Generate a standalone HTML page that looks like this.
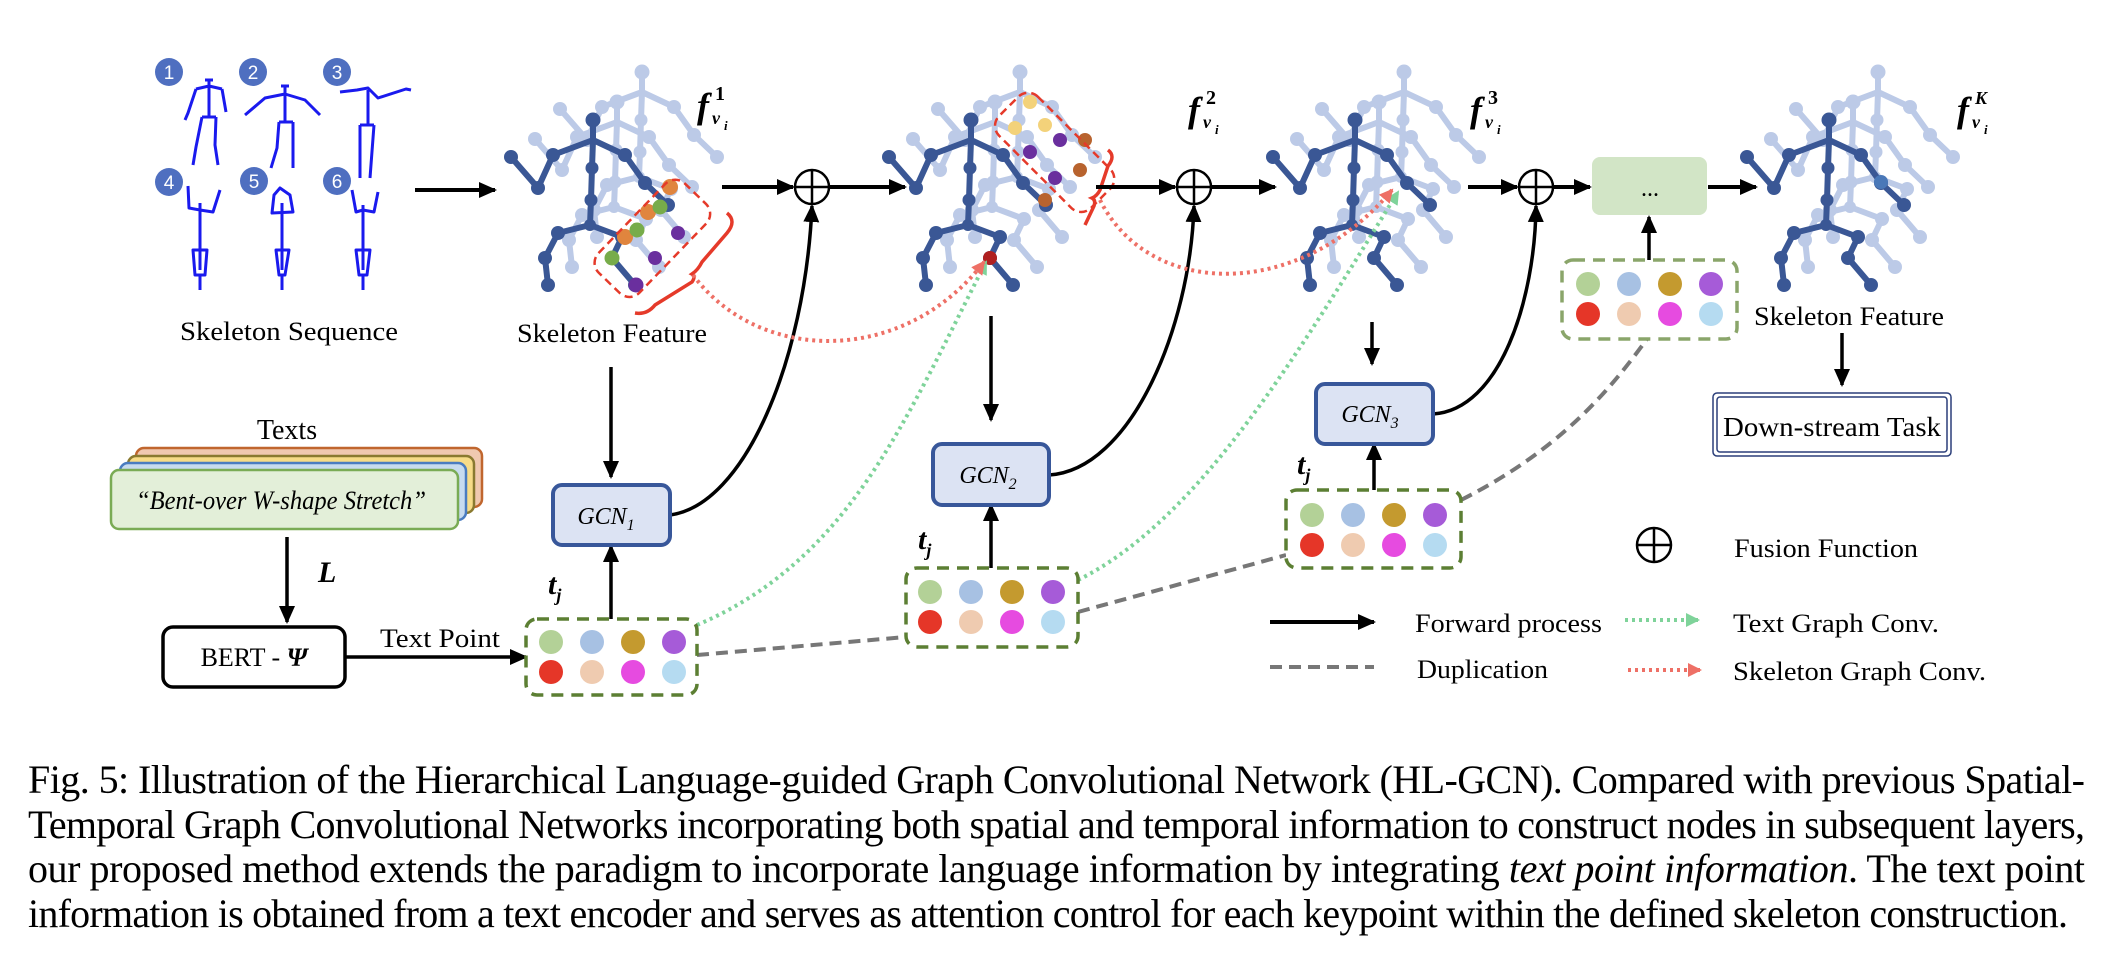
<!DOCTYPE html>
<html><head><meta charset="utf-8"><style>
html,body{margin:0;padding:0;background:#fff;}
svg{display:block;font-family:"Liberation Serif",serif;}
</style></head><body>
<svg width="2106" height="966" viewBox="0 0 2106 966" xmlns="http://www.w3.org/2000/svg">
<defs>
<marker id="ahb" markerWidth="18" markerHeight="18" refX="16" refY="9" orient="auto" markerUnits="userSpaceOnUse" viewBox="0 0 18 18"><path d="M0,1 L18,9 L0,17 z" fill="#000"/></marker>
<marker id="ahg" markerWidth="14" markerHeight="14" refX="12" refY="7" orient="auto" markerUnits="userSpaceOnUse" viewBox="0 0 14 14"><path d="M0,0 L14,7 L0,14 z" fill="#7fd39a"/></marker>
<marker id="ahr" markerWidth="14" markerHeight="14" refX="12" refY="7" orient="auto" markerUnits="userSpaceOnUse" viewBox="0 0 14 14"><path d="M0,0 L14,7 L0,14 z" fill="#ee7066"/></marker>
<g id="geo">
<path d="M593,120 L593,140 M511,157 L538,188 L553,155 L593,140 L625,155 L645,183 L668,205 M593,140 L592,168 L591,200 L590,225 M548,285 L545,258 L558,233 L590,225 L622,237 L612,258 L635,285" fill="none" stroke-width="6" stroke-linecap="round" stroke-linejoin="round"/>
<g stroke="none">
<circle cx="593" cy="120" r="7.5"/><circle cx="553" cy="155" r="7"/><circle cx="538" cy="188" r="7"/><circle cx="511" cy="157" r="7"/>
<circle cx="625" cy="155" r="7"/><circle cx="645" cy="183" r="7"/><circle cx="668" cy="205" r="7"/>
<circle cx="592" cy="168" r="6.5"/><circle cx="591" cy="200" r="6.5"/><circle cx="590" cy="225" r="6"/>
<circle cx="558" cy="233" r="7"/><circle cx="545" cy="258" r="7"/><circle cx="548" cy="285" r="7"/>
<circle cx="622" cy="237" r="7"/><circle cx="612" cy="258" r="7"/><circle cx="635" cy="285" r="7"/>
</g></g>
<g id="light">
<use href="#geo" transform="translate(49,-48)" stroke="#bccae7" fill="#bccae7"/>
<use href="#geo" transform="translate(24,-18)" stroke="#bccae7" fill="#bccae7"/>
</g>
<g id="skel">
<use href="#light"/>
<use href="#geo" stroke="#3a5795" fill="#3a5795"/>
</g>
<g id="dots">
<circle cx="0" cy="0" r="12" fill="#b3d197"/><circle cx="41" cy="0" r="12" fill="#a7c1e3"/><circle cx="82" cy="0" r="12" fill="#c49a2f"/><circle cx="123" cy="0" r="12" fill="#a65bd8"/>
<circle cx="0" cy="30" r="12" fill="#e53628"/><circle cx="41" cy="30" r="12" fill="#efcbb0"/><circle cx="82" cy="30" r="12" fill="#e64be0"/><circle cx="123" cy="30" r="12" fill="#b5dbf1"/>
</g>
</defs>

<g fill="#4f6fc0">
<circle cx="169" cy="72" r="14"/><circle cx="253" cy="72" r="14"/><circle cx="337" cy="72" r="14"/>
<circle cx="169" cy="182" r="14"/><circle cx="254" cy="181" r="14"/><circle cx="337" cy="181" r="14"/>
</g>
<g fill="#fff" font-family="Liberation Sans,sans-serif" font-size="19" text-anchor="middle">
<text x="169" y="79">1</text><text x="253" y="79">2</text><text x="337" y="79">3</text>
<text x="169" y="189">4</text><text x="254" y="188">5</text><text x="337" y="188">6</text>
</g>
<g stroke="#1a1aee" stroke-width="3" fill="none" stroke-linejoin="round">
<path d="M209,80 L209,117 M196,89 L209,86 L222,89 M196,89 L188,113 L185,120 M222,89 L226,112 M202,117 L216,117 M202,117 L196,147 L193,165 M216,117 L215,145 L218,165 M205,80 L213,80"/>
<path d="M285,86 L285,122 M245,115 L265,98 L285,94 L305,100 L320,115 M279,122 L293,122 M279,122 L277,148 L271,168 M293,122 L293,168 M281,86 L289,86"/>
<path d="M368,90 L368,125 M340,92 L357,90 L368,88 L378,98 L406,89 L411,90 M360,125 L374,125 M360,125 L360,178 M374,125 L370,178"/>
<path d="M200,203 L200,270 M188,186 L189,208 L200,210 L213,212 L220,190 M193,250 L207,250 L205,275 L195,275 z M200,275 L200,290"/>
<path d="M282,203 L282,270 M274,195 L280,188 L290,195 L293,212 L272,213 z M276,250 L289,250 L285,275 L279,275 z M282,275 L282,290"/>
<path d="M363,205 L363,270 M352,190 L356,212 L363,210 L374,212 L378,192 M356,250 L370,250 L367,275 L359,275 z M363,275 L363,290"/>
</g>
<text x="289" y="340" font-size="26" text-anchor="middle" textLength="218" lengthAdjust="spacingAndGlyphs">Skeleton Sequence</text>
<line x1="415" y1="190" x2="495" y2="190" stroke="#000" stroke-width="4" marker-end="url(#ahb)"/>

<use href="#skel"/>
<use href="#skel" transform="translate(378,0)"/>
<use href="#skel" transform="translate(762,0)"/>
<use href="#skel" transform="translate(1236,0)"/>
<circle cx="1881" cy="182" r="7" fill="#4a78b8"/>

<g>
<circle cx="670" cy="187" r="8" fill="#e0853e"/><circle cx="648" cy="212" r="8" fill="#e0853e"/><circle cx="625" cy="237" r="8" fill="#e0853e"/>
<circle cx="660" cy="207" r="7.5" fill="#77ac4a"/><circle cx="637" cy="230" r="7.5" fill="#77ac4a"/><circle cx="612" cy="258" r="7.5" fill="#77ac4a"/>
<circle cx="678" cy="233" r="7" fill="#6a2f9e"/><circle cx="655" cy="258" r="7" fill="#6a2f9e"/><circle cx="636" cy="285" r="7.5" fill="#6a2f9e"/>
</g>
<rect x="590" y="210" width="124" height="57" rx="14" transform="rotate(-46 652 238)" fill="none" stroke="#e53a2a" stroke-width="2.5" stroke-dasharray="8,5"/>
<path d="M727,213 q10,8 0,20 L702,262 q-4,8 -10,12 q4,2 0,8 L655,305 q-8,10 -20,8" fill="none" stroke="#e53a2a" stroke-width="3.5"/>
<g>
<circle cx="1030" cy="102" r="7" fill="#f3d27a"/><circle cx="1045" cy="125" r="7" fill="#f3d27a"/><circle cx="1015" cy="128" r="7" fill="#f3d27a"/>
<circle cx="1060" cy="140" r="7" fill="#6a2f9e"/><circle cx="1030" cy="152" r="7" fill="#6a2f9e"/><circle cx="1055" cy="178" r="7" fill="#6a2f9e"/>
<circle cx="1080" cy="170" r="7" fill="#b8632e"/><circle cx="1085" cy="140" r="7" fill="#b8632e"/><circle cx="1045" cy="200" r="7" fill="#b8632e"/>
<circle cx="990" cy="258" r="7" fill="#b02020"/>
</g>
<rect x="990" y="125" width="130" height="55" rx="14" transform="rotate(45 1055 152)" fill="none" stroke="#e53a2a" stroke-width="2.5" stroke-dasharray="8,5"/>
<path d="M1108,150 q8,6 0,16 L1100,190 q-3,6 -8,8 q4,2 2,8 L1085,225" fill="none" stroke="#e53a2a" stroke-width="3.5"/>

<g font-weight="bold" font-style="italic">
<text x="697" y="118" font-size="36">f</text><text x="715" y="100" font-size="20" font-style="normal">1</text><text x="712" y="124" font-size="18">v</text><text x="724" y="130" font-size="13">i</text>
<text x="1188" y="122" font-size="36">f</text><text x="1206" y="104" font-size="20" font-style="normal">2</text><text x="1203" y="128" font-size="18">v</text><text x="1215" y="134" font-size="13">i</text>
<text x="1470" y="122" font-size="36">f</text><text x="1488" y="104" font-size="20" font-style="normal">3</text><text x="1485" y="128" font-size="18">v</text><text x="1497" y="134" font-size="13">i</text>
<text x="1957" y="122" font-size="36">f</text><text x="1975" y="104" font-size="18">K</text><text x="1972" y="128" font-size="18">v</text><text x="1984" y="134" font-size="13">i</text>
</g>

<g stroke="#000" stroke-width="4">
<line x1="722" y1="187" x2="793" y2="187" marker-end="url(#ahb)"/>
<line x1="830" y1="187" x2="905" y2="187" marker-end="url(#ahb)"/>
<line x1="1096" y1="187" x2="1175" y2="187" marker-end="url(#ahb)"/>
<line x1="1211" y1="187" x2="1275" y2="187" marker-end="url(#ahb)"/>
<line x1="1468" y1="187" x2="1517" y2="187" marker-end="url(#ahb)"/>
<line x1="1554" y1="187" x2="1590" y2="187" marker-end="url(#ahb)"/>
<line x1="1708" y1="187" x2="1756" y2="187" marker-end="url(#ahb)"/>
</g>
<g fill="#fff" stroke="#000" stroke-width="2.5">
<circle cx="812" cy="187" r="17"/><circle cx="1194" cy="187" r="17"/><circle cx="1536" cy="187" r="17"/><circle cx="1654" cy="545" r="17"/>
</g>
<path d="M795,187 H829 M812,170 V204 M1177,187 H1211 M1194,170 V204 M1519,187 H1553 M1536,170 V204 M1637,545 H1671 M1654,528 V562" stroke="#000" stroke-width="2.5"/>
<rect x="1592" y="157" width="115" height="58" rx="8" fill="#d2e5c6"/>
<text x="1650" y="196" font-size="24" text-anchor="middle">...</text>

<text x="612" y="342" font-size="26" text-anchor="middle" textLength="190" lengthAdjust="spacingAndGlyphs">Skeleton Feature</text>
<text x="1849" y="325" font-size="26" text-anchor="middle" textLength="190" lengthAdjust="spacingAndGlyphs">Skeleton Feature</text>

<g stroke="#000" stroke-width="3.5">
<line x1="611" y1="367" x2="611" y2="477" marker-end="url(#ahb)"/>
<line x1="991" y1="316" x2="991" y2="420" marker-end="url(#ahb)"/>
<line x1="1372" y1="322" x2="1372" y2="364" marker-end="url(#ahb)"/>
<line x1="1842" y1="333" x2="1842" y2="385" marker-end="url(#ahb)"/>
<line x1="611" y1="619" x2="611" y2="546" marker-end="url(#ahb)"/>
<line x1="991" y1="568" x2="991" y2="505" marker-end="url(#ahb)"/>
<line x1="1374" y1="492" x2="1374" y2="444" marker-end="url(#ahb)"/>
<line x1="1649" y1="260" x2="1649" y2="217" marker-end="url(#ahb)"/>
<line x1="287" y1="537" x2="287" y2="622" marker-end="url(#ahb)"/>
<line x1="345" y1="657" x2="526" y2="657" marker-end="url(#ahb)"/>
</g>
<g fill="none" stroke="#000" stroke-width="3.5">
<path d="M670,515 C745,505 805,360 812,206" marker-end="url(#ahb)"/>
<path d="M1049,475 C1130,470 1190,330 1194,206" marker-end="url(#ahb)"/>
<path d="M1433,414 C1500,410 1535,300 1536,206" marker-end="url(#ahb)"/>
</g>

<g fill="#dce3f3" stroke="#38579a" stroke-width="4">
<rect x="553" y="485" width="117" height="60" rx="9"/>
<rect x="933" y="444" width="116" height="61" rx="9"/>
<rect x="1316" y="384" width="117" height="60" rx="9"/>
</g>
<g font-style="italic" font-size="24" text-anchor="middle">
<text x="606" y="524">GCN<tspan font-size="16" dy="6">1</tspan></text>
<text x="988" y="483">GCN<tspan font-size="16" dy="6">2</tspan></text>
<text x="1370" y="422">GCN<tspan font-size="16" dy="6">3</tspan></text>
</g>
<g font-weight="bold" font-style="italic" font-size="30">
<text x="548" y="594">t<tspan font-size="18" dy="7">j</tspan></text>
<text x="918" y="549">t<tspan font-size="18" dy="7">j</tspan></text>
<text x="1297" y="474">t<tspan font-size="18" dy="7">j</tspan></text>
</g>

<g fill="none" stroke-width="4" stroke-dasharray="3,4">
<path d="M697,625 C850,560 905,420 986,262" stroke="#7fd39a" marker-end="url(#ahg)"/>
<path d="M1078,580 C1200,520 1300,350 1398,192" stroke="#7fd39a" marker-end="url(#ahg)"/>
<path d="M693,275 C760,365 905,365 984,262" stroke="#ee7066" marker-end="url(#ahr)"/>
<path d="M1100,200 C1150,300 1300,300 1392,190" stroke="#ee7066" marker-end="url(#ahr)"/>
</g>
<g fill="none" stroke="#777" stroke-width="4" stroke-dasharray="12,7">
<path d="M697,655 L906,637"/>
<path d="M1078,612 L1286,555"/>
<path d="M1461,500 C1560,450 1610,390 1647,339"/>
</g>

<g fill="#fff" stroke-width="3.5" stroke-dasharray="12,8">
<rect x="526" y="619" width="171" height="76" rx="11" stroke="#5c7f33"/>
<rect x="906" y="568" width="172" height="79" rx="11" stroke="#5c7f33"/>
<rect x="1286" y="490" width="175" height="78" rx="11" stroke="#5c7f33"/>
<rect x="1562" y="260" width="175" height="79" rx="11" stroke="#8aa56a"/>
</g>
<use href="#dots" transform="translate(551,642)"/>
<use href="#dots" transform="translate(930,592)"/>
<use href="#dots" transform="translate(1312,515)"/>
<use href="#dots" transform="translate(1588,284)"/>

<text x="287" y="439" font-size="28" text-anchor="middle">Texts</text>
<rect x="136" y="448" width="346" height="59" rx="8" fill="#f0c9b0" stroke="#c0662e" stroke-width="2.5"/>
<rect x="128" y="456" width="346" height="57" rx="8" fill="#f7dc88" stroke="#8a7a30" stroke-width="2.5"/>
<rect x="120" y="463" width="346" height="57" rx="8" fill="#c7dbef" stroke="#4a7cc0" stroke-width="2.5"/>
<rect x="111" y="470" width="347" height="59" rx="8" fill="#e3efd9" stroke="#7aab55" stroke-width="2.5"/>
<text x="281" y="509" font-size="26" font-style="italic" text-anchor="middle" textLength="290" lengthAdjust="spacingAndGlyphs">“Bent-over W-shape Stretch”</text>
<text x="318" y="582" font-size="30" font-weight="bold" font-style="italic">L</text>
<rect x="163" y="627" width="182" height="60" rx="10" fill="#fff" stroke="#000" stroke-width="3.5"/>
<text x="254" y="666" font-size="26" text-anchor="middle">BERT - <tspan font-weight="bold" font-style="italic">Ψ</tspan></text>
<text x="440" y="647" font-size="26" text-anchor="middle" textLength="120" lengthAdjust="spacingAndGlyphs">Text Point</text>

<rect x="1713" y="393" width="238" height="63" rx="4" fill="#fff" stroke="#2b3f7a" stroke-width="1.5"/>
<rect x="1717" y="397" width="230" height="55" rx="3" fill="#fff" stroke="#2b3f7a" stroke-width="1.5"/>
<text x="1832" y="436" font-size="27" text-anchor="middle" textLength="218" lengthAdjust="spacingAndGlyphs">Down-stream Task</text>

<text x="1734" y="557" font-size="26" textLength="184" lengthAdjust="spacingAndGlyphs">Fusion Function</text>
<line x1="1270" y1="622" x2="1374" y2="622" stroke="#000" stroke-width="4" marker-end="url(#ahb)"/>
<text x="1415" y="632" font-size="26" textLength="187" lengthAdjust="spacingAndGlyphs">Forward process</text>
<path d="M1625,620 H1698" stroke="#7fd39a" stroke-width="4" stroke-dasharray="3,4" marker-end="url(#ahg)"/>
<text x="1733" y="632" font-size="26" textLength="206" lengthAdjust="spacingAndGlyphs">Text Graph Conv.</text>
<path d="M1270,667 H1374" stroke="#777" stroke-width="4" stroke-dasharray="12,7"/>
<text x="1417" y="678" font-size="26" textLength="131" lengthAdjust="spacingAndGlyphs">Duplication</text>
<path d="M1628,670 H1700" stroke="#ee7066" stroke-width="4" stroke-dasharray="3,4" marker-end="url(#ahr)"/>
<text x="1733" y="680" font-size="26" textLength="253" lengthAdjust="spacingAndGlyphs">Skeleton Graph Conv.</text>

<g font-size="40">
<text x="28" y="793" textLength="2057" lengthAdjust="spacing">Fig. 5: Illustration of the Hierarchical Language-guided Graph Convolutional Network (HL-GCN). Compared with previous Spatial-</text>
<text x="28" y="838" textLength="2057" lengthAdjust="spacing">Temporal Graph Convolutional Networks incorporating both spatial and temporal information to construct nodes in subsequent layers,</text>
<text x="28" y="882" textLength="2057" lengthAdjust="spacing">our proposed method extends the paradigm to incorporate language information by integrating <tspan font-style="italic">text point information</tspan>. The text point</text>
<text x="28" y="927" textLength="2040" lengthAdjust="spacing">information is obtained from a text encoder and serves as attention control for each keypoint within the defined skeleton construction.</text>
</g>
</svg>
</body></html>
